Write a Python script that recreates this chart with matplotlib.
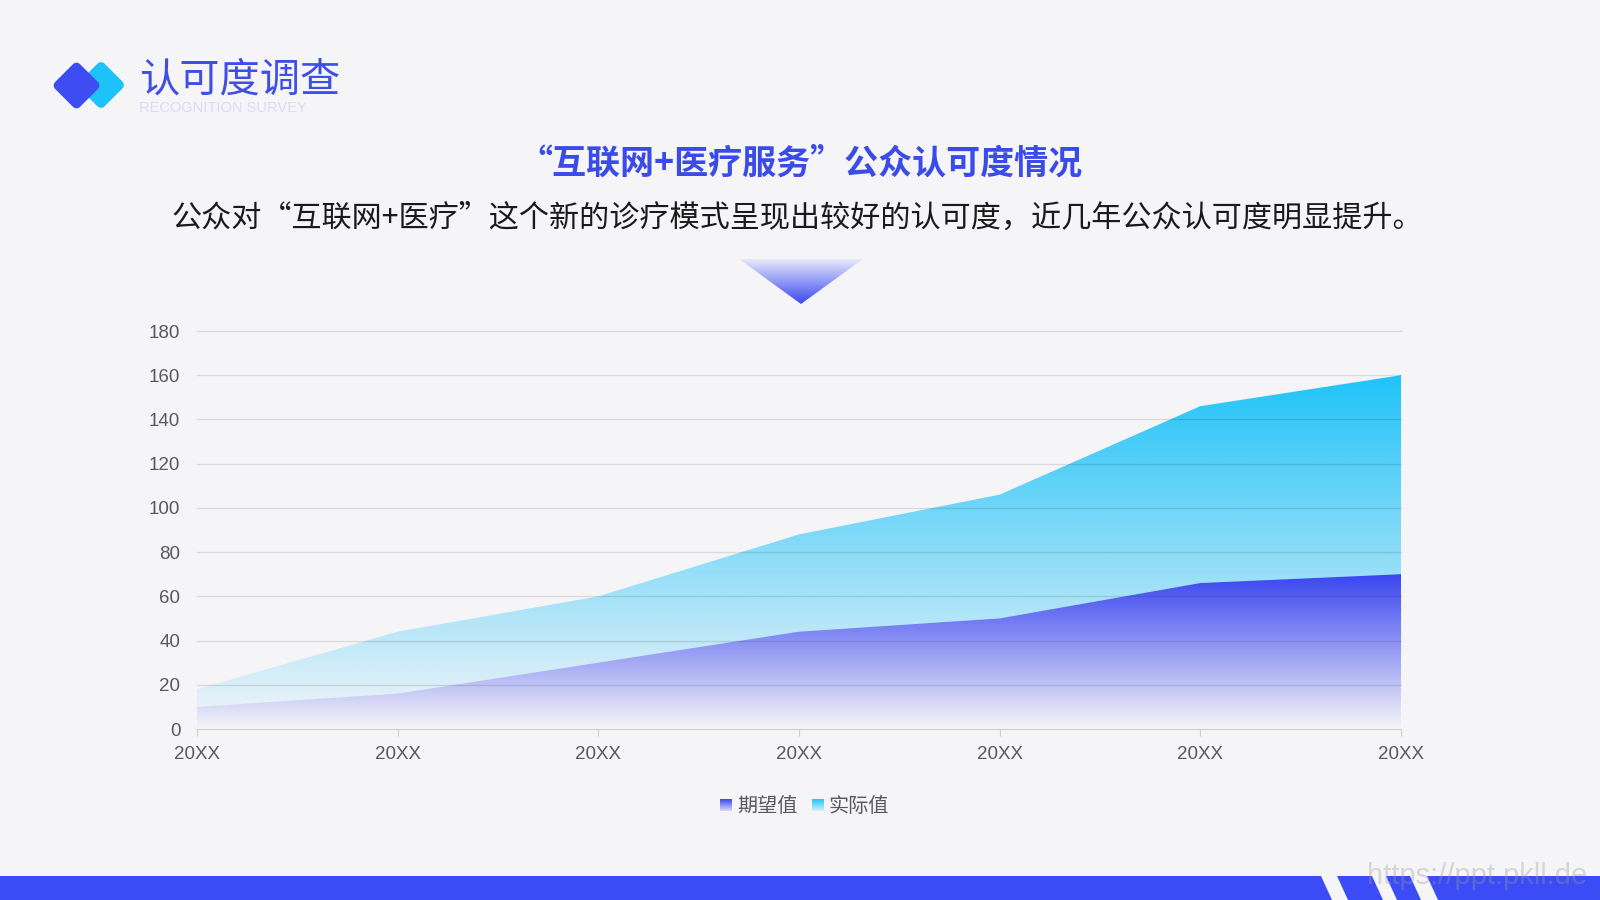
import numpy as np
import matplotlib
matplotlib.use("Agg")
import matplotlib.pyplot as plt
from matplotlib.patches import Polygon, PathPatch
from matplotlib.colors import to_rgb

plt.rcParams['font.family'] = ['Noto Sans CJK SC', 'DejaVu Sans']

# ---------------- data ----------------
categories = ['20XX', '20XX', '20XX', '20XX', '20XX', '20XX', '20XX']
expected = [10, 16, 30, 44, 50, 66, 70]        # 期望值
actual = [18, 44, 60, 88, 106, 146, 160]       # 实际值
series_names = ['期望值', '实际值']
y_ticks = [0, 20, 40, 60, 80, 100, 120, 140, 160, 180]

title = '认可度调查'
subtitle = 'RECOGNITION SURVEY'
heading = '“互联网+医疗服务”公众认可度情况'
sentence = '公众对“互联网+医疗”这个新的诊疗模式呈现出较好的认可度，近几年公众认可度明显提升。'

BG = '#F5F5F8'
BLUE = '#3A46F0'
CYAN = '#20C3F8'
TXT = '#595959'
LAT = ['Liberation Sans', 'DejaVu Sans']

fig = plt.figure(figsize=(16, 9), dpi=100, facecolor=BG)

# decoration axes in pixel coordinates
ad = fig.add_axes([0, 0, 1, 1])
ad.set_xlim(0, 1600)
ad.set_ylim(900, 0)
ad.axis('off')
ad.set_zorder(0)
ad.set_facecolor(BG)


def grad_image(ax, x0, x1, ytop, ybot, c_top, c_bot, n=256, clip=None, z=2):
    t = np.linspace(0, 1, n)[:, None]
    ct = np.array(to_rgb(c_top))
    cb = np.array(to_rgb(c_bot))
    rgb = ct * (1 - t) + cb * t  # row0 = top
    img = rgb.reshape(n, 1, 3)
    im = ax.imshow(img, extent=(x0, x1, ybot, ytop), origin='upper',
                   aspect='auto', zorder=z, interpolation='bilinear')
    if clip is not None:
        im.set_clip_path(clip)
    return im


# logo diamonds
def diamond(cx, cy, r, color, z):
    p = Polygon([(cx, cy - r), (cx + r, cy), (cx, cy + r), (cx - r, cy)],
                closed=True, facecolor=color, edgecolor=color, lw=7,
                joinstyle='round', zorder=z)
    ad.add_patch(p)

diamond(101, 85, 18, '#1CC2F8', 2)
diamond(76.5, 85.5, 18, '#3D4DF2', 3)

fig.text(139 / 1600, 1 - 80 / 900, title, fontsize=29, color='#3F4FE6',
         ha='left', va='center')
fig.text(139 / 1600, 1 - 108 / 900, subtitle, fontsize=10.5, color='#DADCF5',
         ha='left', va='center', family=LAT)

fig.text(800 / 1600, 1 - 163 / 900, heading, fontsize=24.5, color='#3B4BE8',
         ha='center', va='center', fontweight='bold')
fig.text(797 / 1600, 1 - 218 / 900, sentence, fontsize=21.7, color='#1A1A1A',
         ha='center', va='center')

# triangle
tri = Polygon([(739, 259), (863, 259), (801, 304)], closed=True,
              facecolor='none', edgecolor='none')
ad.add_patch(tri)
grad_image(ad, 739, 863, 259, 304, '#E8EAFB', '#3A48F0', clip=tri)

# legend squares + labels
sq1 = Polygon([(720, 799), (732, 799), (732, 811), (720, 811)], closed=True,
              facecolor='none', edgecolor='none')
ad.add_patch(sq1)
grad_image(ad, 720, 732, 799, 811, BLUE, '#D8DAF8', clip=sq1)
sq2 = Polygon([(812, 799), (824, 799), (824, 811), (812, 811)], closed=True,
              facecolor='none', edgecolor='none')
ad.add_patch(sq2)
grad_image(ad, 812, 824, 799, 811, CYAN, '#D5F1FB', clip=sq2)
fig.text(737 / 1600, 1 - 806 / 900, series_names[0], fontsize=14.5, color=TXT,
         ha='left', va='center')
fig.text(829 / 1600, 1 - 806 / 900, series_names[1], fontsize=14.5, color=TXT,
         ha='left', va='center')

# bottom bar with stripes
ad.add_patch(Polygon([(0, 876), (1600, 876), (1600, 900), (0, 900)], closed=True,
                     facecolor='#3B4CF6', edgecolor='none', zorder=2))
for (a, b) in [(1321, 1337), (1372, 1386), (1410, 1427)]:
    ad.add_patch(Polygon([(a, 876), (b, 876), (b + 11, 900), (a + 11, 900)],
                         closed=True, facecolor=BG, edgecolor='none', zorder=3))
fig.text(1367 / 1600, 1 - 876 / 900, 'https://ppt.pkll.de', fontsize=21,
         color='#9A9A9A', alpha=0.35, ha='left', va='center',
         family=LAT, zorder=5)

# ---------------- chart ----------------
ax = fig.add_axes([197 / 1600, 1 - 729 / 900, (1401 - 197) / 1600, 398 / 900])
ax.set_zorder(1)
ax.set_facecolor('none')
x = np.arange(len(categories))


def area(xv, yv, top_color, z):
    coll = ax.fill_between(xv, 0, yv, facecolor='none', edgecolor='none', lw=0)
    path = coll.get_paths()[0]
    patch = PathPatch(path, transform=ax.transData, facecolor='none',
                      edgecolor='none')
    ax.add_patch(patch)
    ymax = max(yv)
    grad_image(ax, xv[0], xv[-1], ymax, 0, top_color, BG, clip=patch, z=z)


area(x, actual, CYAN, 1)
area(x, expected, BLUE, 2)

ax.set_xlim(0, len(categories) - 1)
ax.set_ylim(0, 180)
ax.set_yticks(y_ticks)
ax.set_xticks(x)
ax.set_xticklabels(categories)
for yv in y_ticks[1:]:
    ax.axhline(yv, color='black', alpha=0.11, lw=1, zorder=3, clip_on=False)
for s in ['left', 'right', 'top']:
    ax.spines[s].set_visible(False)
ax.spines['bottom'].set_color('#D0D0D0')
ax.spines['bottom'].set_zorder(4)
ax.tick_params(axis='y', length=0, pad=12, labelsize=13.5, labelcolor=TXT)
ax.tick_params(axis='x', length=5, color='#D0D0D0', pad=7.5, labelsize=13.5,
               labelcolor=TXT)
for lab in ax.get_xticklabels() + ax.get_yticklabels():
    lab.set_family(LAT)

fig.savefig('out.png', dpi=100, facecolor=BG)
